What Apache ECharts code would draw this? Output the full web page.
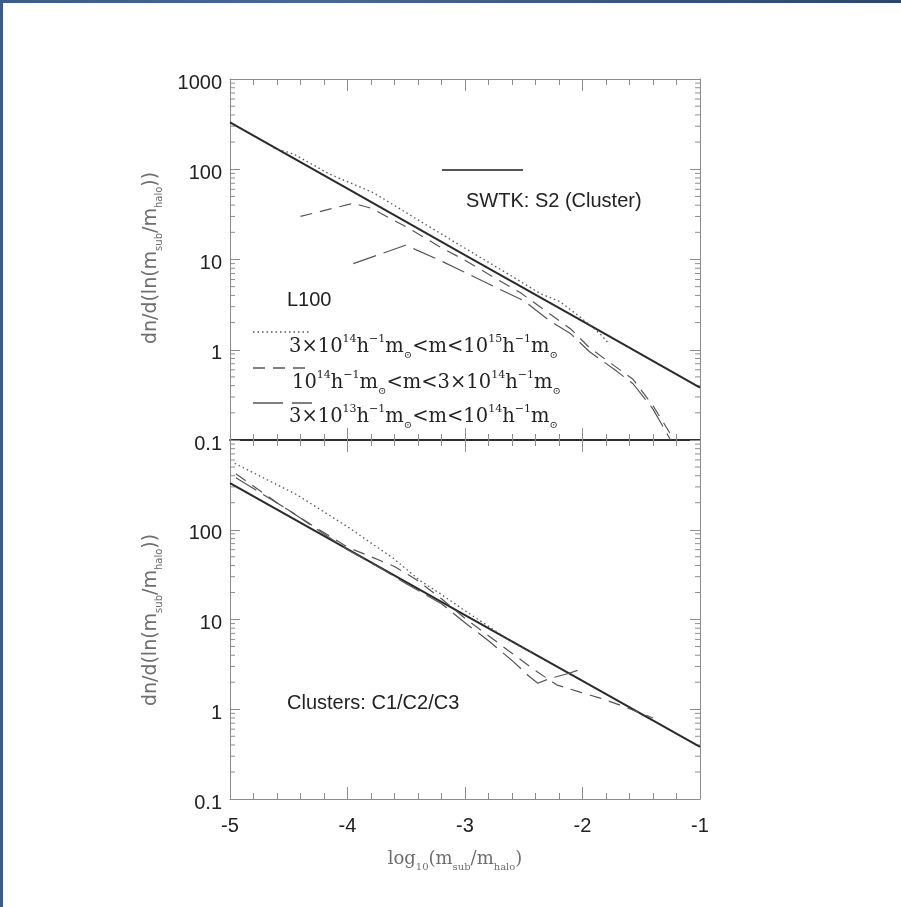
<!DOCTYPE html>
<html><head><meta charset="utf-8">
<script src="https://cdn.jsdelivr.net/npm/echarts@6/dist/echarts.min.js"></script>
<style>html,body{margin:0;padding:0;background:#fff}#c{width:901px;height:907px}</style>
</head><body><div id="c"></div><script>
// ---- data ----
const xTickLabels = ['-5', '-4', '-3', '-2', '-1'];
const yTickLabels = ['0.1', '1', '10', '100', '1000'];

// SWTK S2 (Cluster) power law (same in both panels)
const solidX = [-5, -4, -3, -2, -1];
const solidY = [330, 61, 11.2, 2.07, 0.38];

// Top panel: L100
const topDottedX = [-4.63, -4.46, -4.15, -3.78, -3.41, -3.02, -2.7, -2.36, -2.19, -2.02, -1.85, -1.77];
const topDottedY = [172, 148, 88, 55, 28, 13.8, 7.8, 4.2, 3.4, 2.3, 1.5, 1.15];
const topDashedX = [-4.40, -3.95, -3.80, -3.50, -3.20, -3.00, -2.75, -2.53, -2.28, -2.10, -1.94, -1.74, -1.57, -1.40, -1.22];
const topDashedY = [30, 42, 37, 23, 13.5, 9.8, 6.3, 4.3, 2.5, 1.7, 1.05, 0.68, 0.47, 0.24, 0.1];
const topLongX = [-3.95, -3.50, -3.41, -3.20, -3.00, -2.75, -2.50, -2.28, -2.10, -1.94, -1.74, -1.57, -1.40, -1.25];
const topLongY = [9, 14.5, 12.7, 9.6, 7.2, 5.0, 3.5, 2.1, 1.5, 0.95, 0.62, 0.42, 0.22, 0.1];

// Bottom panel: Clusters C1/C2/C3
const botDottedX = [-4.96, -4.43, -4.00, -3.61, -3.38, -3.20, -3.00, -2.80, -2.59, -2.42];
const botDottedY = [550, 245, 108, 48, 27, 19, 12.5, 8.4, 5.5, 4.2];
const botDashedX = [-4.95, -4.60, -4.30, -4.00, -3.80, -3.60, -3.40, -3.20, -3.00, -2.80, -2.60, -2.40, -2.30, -2.22, -2.02, -1.85, -1.68, -1.50, -1.40];
const botDashedY = [420, 200, 112, 64, 50, 39, 27, 17, 10.3, 6.6, 4.2, 2.7, 2.2, 1.87, 1.55, 1.33, 1.11, 0.9, 0.8];
const botLongX = [-4.95, -4.50, -4.00, -3.70, -3.50, -3.20, -3.00, -2.80, -2.60, -2.45, -2.38, -2.28, -2.12, -1.98];
const botLongY = [380, 165, 60, 36, 25, 15, 9.2, 5.8, 3.5, 2.3, 1.95, 2.2, 2.5, 2.9];

// ---- chart ----
const pairs = (xs, ys) => xs.map((x, i) => [x, ys[i]]);
const chart = echarts.init(document.getElementById('c'), null, { renderer: 'canvas' });
const GRAY = '#8c8c8c';
const DARK = '#222';
const SANS = 'Liberation Sans';
const SERIF = 'DejaVu Serif';

function xAx(grid, pos, dark, labels) {
  return {
    type: 'value', gridIndex: grid, position: pos, min: -5, max: -1, interval: 1,
    axisLine: { show: true, onZero: false, lineStyle: { color: dark ? DARK : GRAY, width: dark ? 1.5 : 1 } },
    axisTick: { show: true, inside: true, length: 12, lineStyle: { color: GRAY, width: 1 } },
    minorTick: { show: true, splitNumber: 5, length: 6, lineStyle: { color: GRAY, width: 1 } },
    splitLine: { show: false }, minorSplitLine: { show: false },
    axisLabel: {
      show: labels, margin: 17, color: DARK, fontFamily: SANS, fontSize: 20,
      formatter: v => xTickLabels[Math.round(v + 5)]
    }
  };
}
function yAx(grid, pos, labels, showMax) {
  return {
    type: 'log', logBase: 10, gridIndex: grid, position: pos, min: 0.1, max: 1000,
    axisLine: { show: true, onZero: false, lineStyle: { color: GRAY, width: 1 } },
    axisTick: { show: true, inside: true, length: 10, lineStyle: { color: GRAY, width: 1 } },
    splitLine: { show: false },
    axisLabel: {
      show: labels, margin: 8, color: DARK, fontFamily: SANS, fontSize: 20,
      showMaxLabel: showMax, verticalAlign: 'top', lineHeight: 8,
      formatter: v => yTickLabels[Math.round(Math.log10(v)) + 1]
    }
  };
}
function ser(xs, ys, xi, yi, ls) {
  return {
    type: 'line', xAxisIndex: xi, yAxisIndex: yi, data: pairs(xs, ys),
    symbol: 'none', showSymbol: false, silent: true, animation: false, lineStyle: ls, z: 3
  };
}
const sSolid = { color: '#2a2a2a', width: 2, type: 'solid' };
const sDot = { color: '#555', width: 1.3, type: [1.5, 3] };
const sDash = { color: '#555', width: 1.2, type: [12, 8] };
const sLong = { color: '#555', width: 1.2, type: [24, 8] };

chart.setOption({
  animation: false,
  backgroundColor: '#fff',
  grid: [
    { left: 230, top: 79, width: 470, height: 361 },
    { left: 230, top: 440, width: 470, height: 359 }
  ],
  xAxis: [xAx(0, 'bottom', true, false), xAx(0, 'top', false, false), xAx(1, 'bottom', false, true), xAx(1, 'top', true, false)],
  yAxis: [yAx(0, 'left', true, true), yAx(0, 'right', false, true), yAx(1, 'left', true, false), yAx(1, 'right', false, false)],
  series: [
    ser(solidX, solidY, 0, 0, sSolid),
    ser(topDottedX, topDottedY, 0, 0, sDot),
    ser(topDashedX, topDashedY, 0, 0, sDash),
    ser(topLongX, topLongY, 0, 0, sLong),
    ser(solidX, solidY, 2, 2, sSolid),
    ser(botDottedX, botDottedY, 2, 2, sDot),
    ser(botDashedX, botDashedY, 2, 2, sDash),
    ser(botLongX, botLongY, 2, 2, sLong)
  ]
});

// graphics: minor log ticks, labels, legend
const g = [];
[0, 2].forEach(yi => {
  for (let d = -1; d <= 2; d++) {
    for (let k = 2; k <= 9; k++) {
      const py = chart.convertToPixel({ yAxisIndex: yi }, k * Math.pow(10, d));
      g.push({ type: 'line', silent: true, shape: { x1: 230, y1: py, x2: 235, y2: py }, style: { stroke: GRAY, lineWidth: 1 } });
      g.push({ type: 'line', silent: true, shape: { x1: 700, y1: py, x2: 695, y2: py }, style: { stroke: GRAY, lineWidth: 1 } });
    }
  }
});
// page border
g.push({ type: 'rect', silent: true, shape: { x: 0, y: 0, width: 901, height: 3 },
  style: { fill: new echarts.graphic.LinearGradient(0, 0, 1, 0, [{ offset: 0, color: '#3f5b8c' }, { offset: 0.35, color: '#4a6598' }, { offset: 1, color: '#2f4570' }]) } });
g.push({ type: 'rect', silent: true, shape: { x: 0, y: 0, width: 3, height: 907 }, style: { fill: '#3e5a8a' } });

// SWTK annotation
g.push({ type: 'line', silent: true, shape: { x1: 442, y1: 170, x2: 523, y2: 170 }, style: { stroke: '#555', lineWidth: 2 } });
g.push({ type: 'text', silent: true, x: 466, y: 201, style: { text: 'SWTK: S2 (Cluster)', font: '20px "Liberation Sans"', fill: DARK, align: 'left', verticalAlign: 'middle' } });
g.push({ type: 'text', silent: true, x: 287, y: 300, style: { text: 'L100', font: '20px "Liberation Sans"', fill: DARK, align: 'left', verticalAlign: 'middle' } });
g.push({ type: 'text', silent: true, x: 287, y: 703, style: { text: 'Clusters: C1/C2/C3', font: '20px "Liberation Sans"', fill: DARK, align: 'left', verticalAlign: 'middle' } });

// legend
const richLeg = {
  b: { fontFamily: SERIF, fontSize: 19.5, fill: DARK, lineHeight: 26 },
  s: { fontFamily: SERIF, fontSize: 11, fill: DARK, lineHeight: 11, verticalAlign: 'top' },
  o: { fontFamily: SERIF, fontSize: 10, fill: DARK, lineHeight: 10, verticalAlign: 'bottom' }
};
const legRows = [
  { y: 332, ty: 347, dash: [1.5, 3], x2: 310, text: '{b|3×10}{s|14}{b|h}{s|−1}{b|m}{o|⊙}{b|<m<10}{s|15}{b|h}{s|−1}{b|m}{o|⊙}' },
  { y: 368, ty: 383, dash: [12, 8], x2: 308, text: '{b|10}{s|14}{b|h}{s|−1}{b|m}{o|⊙}{b|<m<3×10}{s|14}{b|h}{s|−1}{b|m}{o|⊙}' },
  { y: 403, ty: 417, dash: [30, 9], x2: 312, text: '{b|3×10}{s|13}{b|h}{s|−1}{b|m}{o|⊙}{b|<m<10}{s|14}{b|h}{s|−1}{b|m}{o|⊙}' }
];
legRows.forEach((r, i) => {
  g.push({ type: 'line', silent: true, shape: { x1: 253, y1: r.y, x2: r.x2, y2: r.y }, style: { stroke: '#555', lineWidth: i === 0 ? 1.3 : 1.5, lineDash: r.dash } });
  g.push({ type: 'text', silent: true, x: i === 1 ? 292 : 289, y: r.ty, style: { text: r.text, rich: richLeg, align: 'left', verticalAlign: 'middle' } });
});

// axis names
const richY = {
  a: { fontFamily: 'DejaVu Sans', fontSize: 19, fill: '#6e6e6e', lineHeight: 26 },
  s: { fontFamily: 'DejaVu Sans', fontSize: 10, fill: '#6e6e6e', lineHeight: 10, verticalAlign: 'bottom' }
};
const yName = '{a|dn/d(ln(m}{s|sub}{a|/m}{s|halo}{a|))}';
g.push({ type: 'text', silent: true, x: 151, y: 258, rotation: Math.PI / 2, style: { text: yName, rich: richY, align: 'center', verticalAlign: 'middle' } });
g.push({ type: 'text', silent: true, x: 151, y: 620, rotation: Math.PI / 2, style: { text: yName, rich: richY, align: 'center', verticalAlign: 'middle' } });
const richX = {
  a: { fontFamily: SERIF, fontSize: 18, fill: '#6e6e6e', lineHeight: 26 },
  s: { fontFamily: SERIF, fontSize: 10, fill: '#6e6e6e', lineHeight: 10, verticalAlign: 'bottom' }
};
g.push({ type: 'text', silent: true, x: 455, y: 859, style: { text: '{a|log}{s|10}{a|(m}{s|sub}{a|/m}{s|halo}{a|)}', rich: richX, align: 'center', verticalAlign: 'middle' } });

chart.setOption({ graphic: g });
</script></body></html>
